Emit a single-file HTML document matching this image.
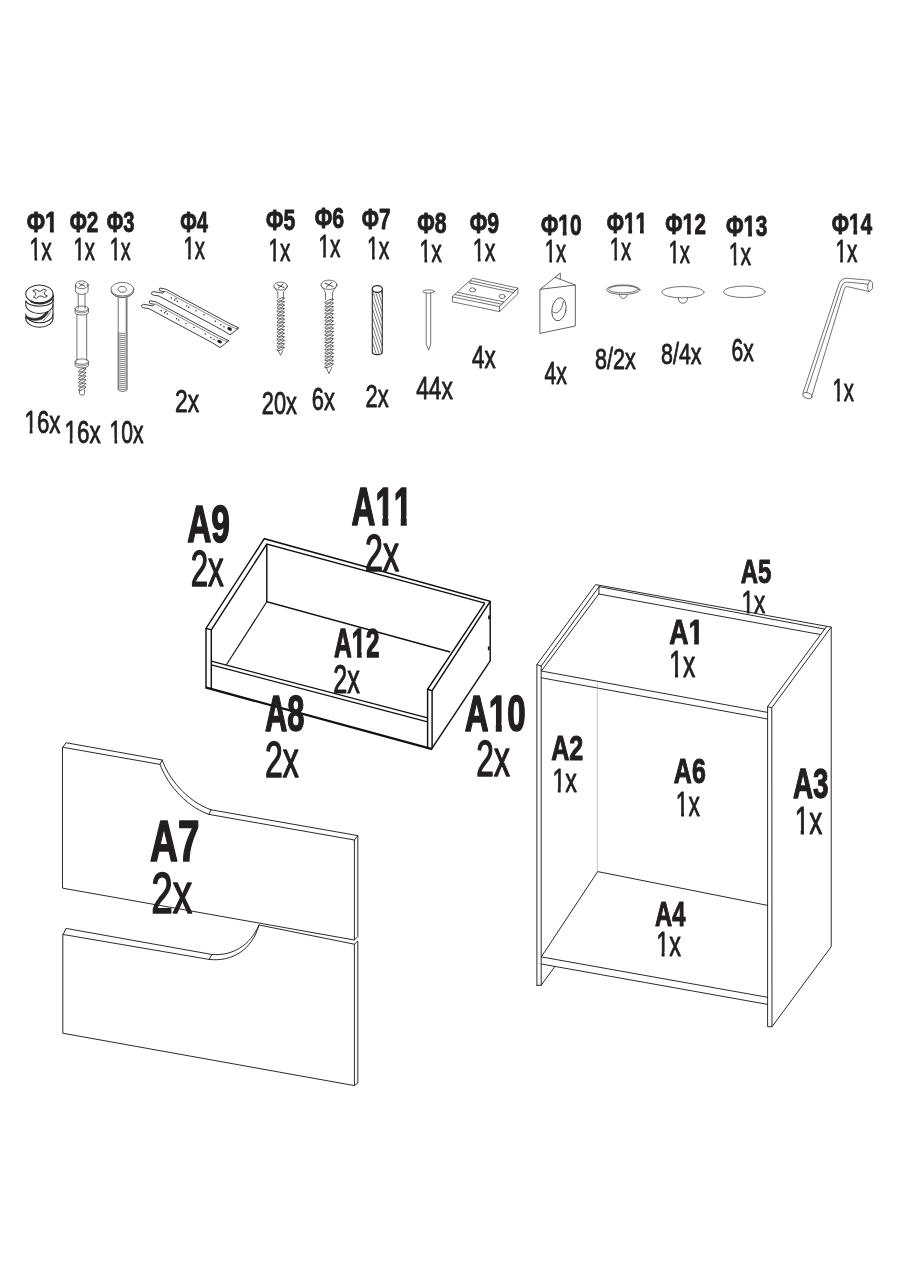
<!DOCTYPE html>
<html><head><meta charset="utf-8"><title>Assembly parts</title>
<style>
html,body{margin:0;padding:0;background:#fff;}
svg{display:block;}
text{font-family:"Liberation Sans",sans-serif;font-size:100px;font-kerning:none;fill:#231f20;stroke:#231f20;vector-effect:non-scaling-stroke;stroke-linejoin:round;}
</style></head><body>
<svg width="900" height="1280" viewBox="0 0 900 1280">
<rect width="900" height="1280" fill="#fff"/>
<defs>
<clipPath id="c0"><path clip-rule="evenodd" d="M-30,-130H400V40H-30ZM82.2,-16.7H103.6V20H82.2ZM120.9,-16.7H141.1V20H120.9Z"/></clipPath>
<clipPath id="c1"><path clip-rule="evenodd" d="M-30,-130H400V40H-30ZM81.8,-16.8H103.5V20H81.8ZM121.0,-16.8H141.5V20H121.0Z"/></clipPath>
<clipPath id="c2"><path clip-rule="evenodd" d="M-30,-130H400V40H-30ZM81.7,-16.7H103.5V20H81.7ZM121.0,-16.7H159.1V20H121.0ZM176.7,-16.7H197.2V20H176.7Z"/></clipPath>
<clipPath id="c3"><path clip-rule="evenodd" d="M-30,-130H400V40H-30ZM81.8,-16.8H103.5V20H81.8ZM121.0,-16.8H141.5V20H121.0Z"/></clipPath>
<clipPath id="c4"><path clip-rule="evenodd" d="M-30,-130H400V40H-30ZM81.9,-16.8H103.6V20H81.9ZM121.0,-16.8H141.4V20H121.0Z"/></clipPath>
<clipPath id="c5"><path clip-rule="evenodd" d="M-30,-130H400V40H-30ZM81.8,-16.7H103.5V20H81.8ZM121.0,-16.7H141.5V20H121.0Z"/></clipPath>
<clipPath id="c6"><path clip-rule="evenodd" d="M-30,-130H400V40H-30ZM1.6,-13.2H23.4V20H1.6ZM35.7,-13.2H56.8V20H35.7Z"/></clipPath>
<clipPath id="c7"><path clip-rule="evenodd" d="M-30,-130H400V40H-30ZM1.4,-13.2H23.4V20H1.4ZM35.8,-13.2H57.0V20H35.8Z"/></clipPath>
<clipPath id="c8"><path clip-rule="evenodd" d="M-30,-130H400V40H-30ZM1.2,-13.2H23.3V20H1.2ZM35.8,-13.2H57.2V20H35.8Z"/></clipPath>
<clipPath id="c9"><path clip-rule="evenodd" d="M-30,-130H400V40H-30ZM1.4,-13.2H23.4V20H1.4ZM35.8,-13.2H57.0V20H35.8Z"/></clipPath>
<clipPath id="c10"><path clip-rule="evenodd" d="M-30,-130H400V40H-30ZM1.5,-13.2H23.4V20H1.5ZM35.7,-13.2H56.8V20H35.7Z"/></clipPath>
<clipPath id="c11"><path clip-rule="evenodd" d="M-30,-130H400V40H-30ZM1.5,-13.2H23.4V20H1.5ZM35.7,-13.2H56.8V20H35.7Z"/></clipPath>
<clipPath id="c12"><path clip-rule="evenodd" d="M-30,-130H400V40H-30ZM1.6,-13.2H23.4V20H1.6ZM35.7,-13.2H56.8V20H35.7Z"/></clipPath>
<clipPath id="c13"><path clip-rule="evenodd" d="M-30,-130H400V40H-30ZM1.6,-13.2H23.4V20H1.6ZM35.7,-13.2H56.8V20H35.7Z"/></clipPath>
<clipPath id="c14"><path clip-rule="evenodd" d="M-30,-130H400V40H-30ZM1.7,-13.2H23.4V20H1.7ZM35.7,-13.2H56.7V20H35.7Z"/></clipPath>
<clipPath id="c15"><path clip-rule="evenodd" d="M-30,-130H400V40H-30ZM1.4,-13.2H23.4V20H1.4ZM35.8,-13.2H57.0V20H35.8Z"/></clipPath>
<clipPath id="c16"><path clip-rule="evenodd" d="M-30,-130H400V40H-30ZM1.4,-13.2H23.4V20H1.4ZM35.8,-13.2H57.0V20H35.8Z"/></clipPath>
<clipPath id="c17"><path clip-rule="evenodd" d="M-30,-130H400V40H-30ZM1.4,-13.2H23.4V20H1.4ZM35.8,-13.2H57.0V20H35.8Z"/></clipPath>
<clipPath id="c18"><path clip-rule="evenodd" d="M-30,-130H400V40H-30ZM1.6,-13.2H23.4V20H1.6ZM35.7,-13.2H56.8V20H35.7Z"/></clipPath>
<clipPath id="c19"><path clip-rule="evenodd" d="M-30,-130H400V40H-30ZM1.5,-13.2H23.4V20H1.5ZM35.7,-13.2H56.8V20H35.7Z"/></clipPath>
<clipPath id="c20"><path clip-rule="evenodd" d="M-30,-130H400V40H-30ZM1.9,-13.3H23.5V20H1.9ZM35.6,-13.3H56.4V20H35.6Z"/></clipPath>
<clipPath id="c21"><path clip-rule="evenodd" d="M-30,-130H400V40H-30ZM2.0,-13.3H23.5V20H2.0ZM35.6,-13.3H56.4V20H35.6Z"/></clipPath>
<clipPath id="c22"><path clip-rule="evenodd" d="M-30,-130H400V40H-30ZM1.6,-13.3H23.4V20H1.6ZM35.7,-13.3H56.8V20H35.7Z"/></clipPath>
<clipPath id="c23"><path clip-rule="evenodd" d="M-30,-130H400V40H-30ZM1.4,-13.2H23.4V20H1.4ZM35.8,-13.2H57.0V20H35.8Z"/></clipPath>
<clipPath id="c24"><path clip-rule="evenodd" d="M-30,-130H400V40H-30ZM71.2,-16.6H93.5V20H71.2ZM111.4,-16.6H149.1V20H111.4ZM167.0,-16.6H188.0V20H167.0Z"/></clipPath>
<clipPath id="c25"><path clip-rule="evenodd" d="M-30,-130H400V40H-30ZM70.9,-16.7H93.4V20H70.9ZM111.4,-16.7H132.6V20H111.4Z"/></clipPath>
<clipPath id="c26"><path clip-rule="evenodd" d="M-30,-130H400V40H-30ZM71.4,-16.8H93.5V20H71.4ZM111.3,-16.8H132.1V20H111.3Z"/></clipPath>
<clipPath id="c27"><path clip-rule="evenodd" d="M-30,-130H400V40H-30ZM1.9,-13.2H23.5V20H1.9ZM35.6,-13.2H56.4V20H35.6Z"/></clipPath>
<clipPath id="c28"><path clip-rule="evenodd" d="M-30,-130H400V40H-30ZM72.5,-16.6H93.8V20H72.5ZM111.0,-16.6H131.1V20H111.0Z"/></clipPath>
<clipPath id="c29"><path clip-rule="evenodd" d="M-30,-130H400V40H-30ZM1.7,-13.2H23.5V20H1.7ZM35.7,-13.2H56.6V20H35.7Z"/></clipPath>
<clipPath id="c30"><path clip-rule="evenodd" d="M-30,-130H400V40H-30ZM1.8,-13.2H23.5V20H1.8ZM35.6,-13.2H56.5V20H35.6Z"/></clipPath>
<clipPath id="c31"><path clip-rule="evenodd" d="M-30,-130H400V40H-30ZM1.4,-13.2H23.4V20H1.4ZM35.8,-13.2H57.0V20H35.8Z"/></clipPath>
<clipPath id="c32"><path clip-rule="evenodd" d="M-30,-130H400V40H-30ZM1.6,-13.2H23.4V20H1.6ZM35.7,-13.2H56.7V20H35.7Z"/></clipPath>
<clipPath id="c33"><path clip-rule="evenodd" d="M-30,-130H400V40H-30ZM1.7,-13.2H23.5V20H1.7ZM35.7,-13.2H56.6V20H35.7Z"/></clipPath>
</defs>
<g id="hardware" fill="none" stroke="#444" stroke-width="0.75" stroke-linecap="round" stroke-linejoin="round">
<!-- F1 cam lock -->
<g stroke="#2b2b2b" stroke-width="1.05">
<path d="M25.799999999999997,293.9 V318.3 A13.6,8.9 0 0 0 53.0,318.3 V293.9 Z" fill="#fff" stroke="none"/>
<path d="M53.0,294.5 V318.3"/>
<path d="M25.799999999999997,318.3 A13.6,8.9 0 0 0 53.0,318.3"/>
<path d="M25.799999999999997,313.9 A13.6,8.9 0 0 0 53.0,313.9"/>
<path d="M25.799999999999997,316.6 V318.3"/>
<path d="M26.4,316 C32,319.6 40.5,319.6 45.6,312.6 L48.4,311.6 C45.5,319.5 36,323.4 26.2,318 Z" fill="#2b2b2b" stroke-width="0.6"/>
<path d="M41,319.6 C45,316.5 47,313.5 48.6,311.4 M43.2,320.6 C46,318 49,315 50.4,311.8" stroke-width="0.7"/>
<path d="M25.8,301.2 V304.6 A13.6,8.9 0 0 0 53,304.6"/>
<path d="M25.8,301 A13.6,6.2 0 0 0 53,298.8"/>
<path d="M31,301.4 A13.6,8.9 0 0 0 53.0,296.3" stroke-width="2"/>
<ellipse cx="39.4" cy="293.9" rx="13.6" ry="8.9" fill="#fff"/>
<path d="M33.2,290.6 L35.8,289.4 L38.4,291.2 L40.6,291.2 L43.6,289.2 L46.4,290.2 L44.2,292.4 L44.6,294.4 L47.4,296 L44.6,297.6 L41.6,296 L39.2,296.2 L36.2,298.4 L33.4,297.2 L35.8,294.8 L35.6,293 Z" stroke-width="0.9"/>
</g>
<!-- F2 bolt -->
<g>
<path d="M75.5,284.8 V290.8 A6.3,3.6 0 0 0 88.1,290.8 V284.8"/>
<ellipse cx="81.8" cy="284.8" rx="6.3" ry="3.9"/>
<path d="M79,283.6 L84.6,286 M84,283.2 L79.6,286.4" stroke-width="0.9"/>
<path d="M78.2,294 V308.4 M85,294 V308.4"/>
<path d="M75.1,308.7 V312.4 A6.7,2.7 0 0 0 88.5,312.4 V308.7"/>
<ellipse cx="81.8" cy="308.7" rx="6.7" ry="2.7"/>
<path d="M75.6,311 A6.4,2.6 0 0 0 88,311" stroke-width="0.6"/>
<path d="M76.9,314.4 V360.4 M86.7,314.4 V360.4"/>
<path d="M75.1,361.6 V365.2 A6.7,2.7 0 0 0 88.5,365.2 V361.6 A6.7,2.7 0 0 0 75.1,361.6 A6.7,2.7 0 0 0 88.5,361.6"/>
<path d="M75.6,364 A6.4,2.6 0 0 0 88,364" stroke-width="0.6"/>
<ellipse cx="82.1" cy="370.23" rx="3.9" ry="1.21" transform="rotate(-24 82.1 370.23)"/><ellipse cx="82.1" cy="373.90" rx="3.9" ry="1.21" transform="rotate(-24 82.1 373.90)"/><ellipse cx="82.1" cy="377.57" rx="3.9" ry="1.21" transform="rotate(-24 82.1 377.57)"/><ellipse cx="82.1" cy="381.23" rx="3.9" ry="1.21" transform="rotate(-24 82.1 381.23)"/><ellipse cx="82.1" cy="384.90" rx="3.9" ry="1.21" transform="rotate(-24 82.1 384.90)"/><ellipse cx="82.1" cy="388.57" rx="3.9" ry="1.21" transform="rotate(-24 82.1 388.57)"/>
<path d="M79.5,390 V393.6 A2.5,1.5 0 0 0 84.5,393.6 V390"/>
</g>
<!-- F3 bolt -->
<g>
<path d="M111,290.6 A11.4,6.8 0 0 0 133.8,290.6" />
<path d="M111.4,292.2 A11.2,6.6 0 0 0 133.4,292.2" stroke-width="0.6"/>
<ellipse cx="122.4" cy="289.2" rx="11.4" ry="6.8" fill="#fff"/>
<path d="M120.2,286.6 L124.6,286.6 L126.8,289.4 L124.6,292.2 L120.2,292.2 L118,289.4 Z"/>
<path d="M118.2,297.6 V389.6 A4.4,1.8 0 0 0 127,389.6 V297.6 M126.2,298 V332" />
<path d="M118.2,333.0 Q122.6,334.1 127,333.0 M118.2,335.0 Q122.6,336.1 127,335.0 M118.2,337.0 Q122.6,338.1 127,337.0 M118.2,339.0 Q122.6,340.1 127,339.0 M118.2,341.0 Q122.6,342.1 127,341.0 M118.2,343.0 Q122.6,344.1 127,343.0 M118.2,345.0 Q122.6,346.1 127,345.0 M118.2,347.0 Q122.6,348.1 127,347.0 M118.2,349.0 Q122.6,350.1 127,349.0 M118.2,351.0 Q122.6,352.1 127,351.0 M118.2,353.0 Q122.6,354.1 127,353.0 M118.2,355.0 Q122.6,356.1 127,355.0 M118.2,357.0 Q122.6,358.1 127,357.0 M118.2,359.0 Q122.6,360.1 127,359.0 M118.2,361.0 Q122.6,362.1 127,361.0 M118.2,363.0 Q122.6,364.1 127,363.0 M118.2,365.0 Q122.6,366.1 127,365.0 M118.2,367.0 Q122.6,368.1 127,367.0 M118.2,369.0 Q122.6,370.1 127,369.0 M118.2,371.0 Q122.6,372.1 127,371.0 M118.2,373.0 Q122.6,374.1 127,373.0 M118.2,375.0 Q122.6,376.1 127,375.0 M118.2,377.0 Q122.6,378.1 127,377.0 M118.2,379.0 Q122.6,380.1 127,379.0 M118.2,381.0 Q122.6,382.1 127,381.0 M118.2,383.0 Q122.6,384.1 127,383.0 M118.2,385.0 Q122.6,386.1 127,385.0 M118.2,387.0 Q122.6,388.1 127,387.0 M118.2,389.0 Q122.6,390.1 127,389.0" stroke-width="0.7"/>
</g>
<!-- F4 rails -->
<g stroke="#2a2a2a" stroke-width="0.9">
<g transform="translate(0,0)">
<path d="M159.6,288.3 Q157.8,290.4 160.6,290.9 L164.6,291.6 L163,293.2 L153.5,291.6 Q150.8,292.2 151.6,294 Q152,295 154,295.2 L159,296 L222.6,330.2 L230,334.9 L238.9,328 L228.7,323.1 L166.4,289.4 Z" fill="#fff"/>
<path d="M165.4,291.2 L227.2,324.8 L236.4,328.8" stroke-width="0.55"/>
<ellipse cx="229.6" cy="328.9" rx="2.4" ry="1.6" fill="#1a1a1a" stroke="none" transform="rotate(25 229.6 328.9)"/>
<circle cx="171.3" cy="298" r="0.7" fill="#1a1a1a" stroke="none"/><circle cx="174.7" cy="300" r="0.7" fill="#1a1a1a" stroke="none"/><circle cx="176" cy="298.7" r="0.7" fill="#1a1a1a" stroke="none"/><circle cx="177.3" cy="301.3" r="0.7" fill="#1a1a1a" stroke="none"/><circle cx="186.7" cy="306" r="0.7" fill="#1a1a1a" stroke="none"/><circle cx="188.7" cy="307.3" r="0.7" fill="#1a1a1a" stroke="none"/><circle cx="196" cy="310.7" r="0.7" fill="#1a1a1a" stroke="none"/><circle cx="204" cy="314.7" r="0.7" fill="#1a1a1a" stroke="none"/><circle cx="215.3" cy="321.3" r="0.7" fill="#1a1a1a" stroke="none"/><circle cx="220.7" cy="324.7" r="0.7" fill="#1a1a1a" stroke="none"/><circle cx="224" cy="326.7" r="0.7" fill="#1a1a1a" stroke="none"/>
<circle cx="237" cy="328.3" r="0.6" fill="#1a1a1a" stroke="none"/>
</g>
<g transform="translate(-10,12.7)">
<path d="M159.6,288.3 Q157.8,290.4 160.6,290.9 L164.6,291.6 L163,293.2 L153.5,291.6 Q150.8,292.2 151.6,294 Q152,295 154,295.2 L159,296 L222.6,330.2 L230,334.9 L238.9,328 L228.7,323.1 L166.4,289.4 Z" fill="#fff"/>
<path d="M165.4,291.2 L227.2,324.8 L236.4,328.8" stroke-width="0.55"/>
<ellipse cx="229.6" cy="328.9" rx="2.4" ry="1.6" fill="#1a1a1a" stroke="none" transform="rotate(25 229.6 328.9)"/>
<circle cx="171.3" cy="298" r="0.7" fill="#1a1a1a" stroke="none"/><circle cx="174.7" cy="300" r="0.7" fill="#1a1a1a" stroke="none"/><circle cx="176" cy="298.7" r="0.7" fill="#1a1a1a" stroke="none"/><circle cx="177.3" cy="301.3" r="0.7" fill="#1a1a1a" stroke="none"/><circle cx="186.7" cy="306" r="0.7" fill="#1a1a1a" stroke="none"/><circle cx="188.7" cy="307.3" r="0.7" fill="#1a1a1a" stroke="none"/><circle cx="196" cy="310.7" r="0.7" fill="#1a1a1a" stroke="none"/><circle cx="204" cy="314.7" r="0.7" fill="#1a1a1a" stroke="none"/><circle cx="215.3" cy="321.3" r="0.7" fill="#1a1a1a" stroke="none"/><circle cx="220.7" cy="324.7" r="0.7" fill="#1a1a1a" stroke="none"/><circle cx="224" cy="326.7" r="0.7" fill="#1a1a1a" stroke="none"/>
<circle cx="237" cy="328.3" r="0.6" fill="#1a1a1a" stroke="none"/>
</g>
</g>
<!-- F5 F6 screws -->
<g>
<ellipse cx="280.6" cy="286.1" rx="6.7" ry="4"/>
<path d="M273.90000000000003,286.90000000000003 Q276.915,291.3 277.85,291.9 V297.7 M287.3,286.90000000000003 Q284.285,291.3 283.35,291.9 V297.7"/>
<path d="M277.25,284.70000000000005 L283.95000000000005,287.5 M282.94500000000005,284.1 L278.255,288.1" stroke-width="1"/>
<ellipse cx="280.6" cy="299.46" rx="3.90" ry="1.16" transform="rotate(-24 280.6 299.46)" stroke-width="0.75"/><ellipse cx="280.6" cy="302.99" rx="3.90" ry="1.16" transform="rotate(-24 280.6 302.99)" stroke-width="0.75"/><ellipse cx="280.6" cy="306.52" rx="3.90" ry="1.16" transform="rotate(-24 280.6 306.52)" stroke-width="0.75"/><ellipse cx="280.6" cy="310.04" rx="3.90" ry="1.16" transform="rotate(-24 280.6 310.04)" stroke-width="0.75"/><ellipse cx="280.6" cy="313.57" rx="3.90" ry="1.16" transform="rotate(-24 280.6 313.57)" stroke-width="0.75"/><ellipse cx="280.6" cy="317.10" rx="3.90" ry="1.16" transform="rotate(-24 280.6 317.10)" stroke-width="0.75"/><ellipse cx="280.6" cy="320.62" rx="3.90" ry="1.16" transform="rotate(-24 280.6 320.62)" stroke-width="0.75"/><ellipse cx="280.6" cy="324.15" rx="3.90" ry="1.16" transform="rotate(-24 280.6 324.15)" stroke-width="0.75"/><ellipse cx="280.6" cy="327.68" rx="3.90" ry="1.16" transform="rotate(-24 280.6 327.68)" stroke-width="0.75"/><ellipse cx="280.6" cy="331.20" rx="3.90" ry="1.16" transform="rotate(-24 280.6 331.20)" stroke-width="0.75"/><ellipse cx="280.6" cy="334.73" rx="3.90" ry="1.16" transform="rotate(-24 280.6 334.73)" stroke-width="0.75"/><ellipse cx="280.6" cy="338.26" rx="3.90" ry="1.16" transform="rotate(-24 280.6 338.26)" stroke-width="0.75"/><ellipse cx="280.6" cy="341.78" rx="3.90" ry="1.16" transform="rotate(-24 280.6 341.78)" stroke-width="0.75"/><ellipse cx="280.6" cy="345.31" rx="3.90" ry="1.16" transform="rotate(-24 280.6 345.31)" stroke-width="0.75"/><ellipse cx="280.6" cy="348.84" rx="3.90" ry="1.16" transform="rotate(-24 280.6 348.84)" stroke-width="0.75"/>
<path d="M278.26000000000005,350.6 L280.6,355.4 L282.94,350.6"/>
</g>
<g>
<ellipse cx="329" cy="284.8" rx="8" ry="4.7"/>
<path d="M321,285.6 Q324.6,290.7 325.5,292.3 V299.4 M337,285.6 Q333.4,290.7 332.5,292.3 V299.4"/>
<path d="M325.0,283.15500000000003 L333.0,286.445 M331.8,282.45 L326.2,287.15000000000003" stroke-width="1"/>
<ellipse cx="329" cy="301.19" rx="4.60" ry="1.18" transform="rotate(-24 329 301.19)" stroke-width="0.75"/><ellipse cx="329" cy="304.77" rx="4.60" ry="1.18" transform="rotate(-24 329 304.77)" stroke-width="0.75"/><ellipse cx="329" cy="308.35" rx="4.60" ry="1.18" transform="rotate(-24 329 308.35)" stroke-width="0.75"/><ellipse cx="329" cy="311.93" rx="4.60" ry="1.18" transform="rotate(-24 329 311.93)" stroke-width="0.75"/><ellipse cx="329" cy="315.51" rx="4.60" ry="1.18" transform="rotate(-24 329 315.51)" stroke-width="0.75"/><ellipse cx="329" cy="319.08" rx="4.60" ry="1.18" transform="rotate(-24 329 319.08)" stroke-width="0.75"/><ellipse cx="329" cy="322.66" rx="4.60" ry="1.18" transform="rotate(-24 329 322.66)" stroke-width="0.75"/><ellipse cx="329" cy="326.24" rx="4.60" ry="1.18" transform="rotate(-24 329 326.24)" stroke-width="0.75"/><ellipse cx="329" cy="329.82" rx="4.60" ry="1.18" transform="rotate(-24 329 329.82)" stroke-width="0.75"/><ellipse cx="329" cy="333.40" rx="4.60" ry="1.18" transform="rotate(-24 329 333.40)" stroke-width="0.75"/><ellipse cx="329" cy="336.98" rx="4.60" ry="1.18" transform="rotate(-24 329 336.98)" stroke-width="0.75"/><ellipse cx="329" cy="340.56" rx="4.60" ry="1.18" transform="rotate(-24 329 340.56)" stroke-width="0.75"/><ellipse cx="329" cy="344.14" rx="4.60" ry="1.18" transform="rotate(-24 329 344.14)" stroke-width="0.75"/><ellipse cx="329" cy="347.72" rx="4.60" ry="1.18" transform="rotate(-24 329 347.72)" stroke-width="0.75"/><ellipse cx="329" cy="351.29" rx="4.60" ry="1.18" transform="rotate(-24 329 351.29)" stroke-width="0.75"/><ellipse cx="329" cy="354.87" rx="4.60" ry="1.18" transform="rotate(-24 329 354.87)" stroke-width="0.75"/><ellipse cx="329" cy="358.45" rx="4.60" ry="1.18" transform="rotate(-24 329 358.45)" stroke-width="0.75"/><ellipse cx="329" cy="362.03" rx="4.60" ry="1.18" transform="rotate(-24 329 362.03)" stroke-width="0.75"/><ellipse cx="329" cy="365.61" rx="4.60" ry="1.18" transform="rotate(-24 329 365.61)" stroke-width="0.75"/>
<path d="M326.24,367.4 L329,373.7 L331.76,367.4"/>
</g>
<!-- F7 dowel -->
<g stroke="#2a2a2a" stroke-width="1.1">
<path d="M372.3,289 V352 A5,2.6 0 0 0 382.3,352 V289" fill="#fff"/>
<path d="M381.0,291.5 L382.3,295.5 M378.1,291.5 L382.3,304.0 M375.3,291.5 L382.3,312.5 M372.5,291.5 L382.3,321.0 M372.3,299.5 L382.3,329.5 M372.3,308.0 L382.3,338.0 M372.3,316.5 L382.3,346.5 M372.3,325.0 L381.8,353.6 M372.3,333.5 L379.0,353.6 M372.3,342.0 L376.2,353.6 M372.3,350.5 L373.3,353.6" stroke-width="0.65" stroke="#3a3a3a"/>
<ellipse cx="377.3" cy="289" rx="5" ry="3.4" fill="#fff" stroke-width="1.2"/>
</g>
<!-- F8 nail -->
<g>
<ellipse cx="428.7" cy="291.5" rx="5.8" ry="1.6" fill="#fff"/>
<path d="M426.2,293 V344 L428.7,350.2 L430.7,344 V293"/>
</g>
<!-- F9 plate -->
<g>
<path d="M472.9,278.3 L517.9,288.1 L517.9,293.8 L499.6,311.6 L452.4,301.8 L452.4,297 Z" fill="#fff"/>
<path d="M452.4,297 L499.6,306.6 L517.9,288.1 M499.6,306.6 V311.6"/>
<path d="M471.2,280.8 L515.6,290.4 M469.4,283 L513.6,292.6 L515.6,290.4 M469.4,283 L471.2,280.8"/>
<path d="M457.8,292.4 L503.6,301.8 M455.2,294.6 L501.6,304.2 L503.6,301.8"/>
<ellipse cx="472.5" cy="289.9" rx="3" ry="2.1"/>
<ellipse cx="502.2" cy="296.4" rx="3" ry="2.1"/>
</g>
<!-- F10 bracket -->
<g stroke-width="0.85">
<path d="M540.3,289.3 L575.3,285 L575.3,326 L540.3,333.3 Z" fill="#fff"/>
<path d="M540.3,289.3 L560.3,273 V278.4 M555.3,277.4 L575.3,285"/>
<ellipse cx="559" cy="309.3" rx="7" ry="11.6" transform="rotate(10 559 309.3)"/>
<path d="M552.3,311.7 C556,315.4 562,311.5 563.4,301.2"/>
</g>
<!-- F11-13 caps -->
<g>
<path d="M619.3,293.8 A4,4.6 0 0 0 627.3,293.8"/>
<ellipse cx="623.3" cy="289.7" rx="16.7" ry="4.8" fill="#fff"/>
<ellipse cx="623.3" cy="289.3" rx="14.8" ry="3.6"/>
<path d="M678.5,297 V299.2 A4.4,4 0 0 0 687.3,299.2 V297"/>
<ellipse cx="682.9" cy="292.2" rx="21.1" ry="5.7" fill="#fff"/>
<ellipse cx="744.4" cy="291.8" rx="20.7" ry="5.8"/>
</g>
<!-- F14 allen key -->
<g>
<path d="M803,393 L838.7,284.8 Q840.6,278.4 846.4,278.2 L870.4,280.3 L872.7,283 L872.5,288.5 L869.3,291.6 L847.4,286.6 Q845.2,286.4 844.4,288.8 L812.1,395.2"/>
<path d="M806.6,392.4 L841.6,286 Q843.4,281.8 847.2,282 L868,284.2"/>
<path d="M870.4,280.3 L868,284.2 L867.6,289 L869.3,291.6"/>
<ellipse cx="807.4" cy="395.6" rx="4.8" ry="2.8" transform="rotate(17 807.4 395.6)" fill="#fff"/>
</g>
</g>

<g id="cabinet" fill="none" stroke="#231f20" stroke-width="0.95" stroke-linejoin="round" stroke-linecap="round">
<path d="M536.9,985.3 L536.9,664.6 L595.6,584.6 L831.2,627.1 L831.2,946.7 L772,1026.7 L767.6,1026.7 L767.6,706.6 L826.6,626.4"/>
<path d="M536.9,985.3 L541.2,985.3 L554.7,966.7"/>
<path d="M541.2,985.3 L541.2,666 L599.1,586.6"/>
<path d="M536.9,664.6 L541.2,666"/>
<path d="M767.6,706.6 L771.8,707.8 L831.2,627.1 M771.8,707.8 L772,1026.7"/>
<path d="M599.1,586.6 L824.7,629.1"/>
<path d="M599.1,586.6 L598.8,594 L819.8,634.4"/>
<path d="M598.8,594 L541.3,671 L767.6,712.4"/>
<path d="M541.3,677.8 L767.6,719"/>
<path d="M597.7,871.6 L767.6,905.4"/>
<path d="M597.7,871.6 L541.3,956.9 L767.6,997.3"/>
<path d="M541.3,964 L767.6,1004.4"/>
<path d="M597.3,683.8 L597.3,871.6" stroke="#9a9a9a" stroke-width="0.6"/>
</g>
<g id="drawerbox" fill="none" stroke="#111" stroke-width="1.45" stroke-linejoin="miter" stroke-linecap="butt">
<path d="M206,687.6 L206,628.4 L264.3,538.7 L490.2,601.3 L490.2,660.9 L431.6,748.9"/>
<path d="M205.4,687.4 L432.2,749.1" stroke-width="2.4"/>
<path d="M206,628.4 L211.3,629.9 L211.3,688.5"/>
<path d="M211.3,629.9 L266.8,544 L484.9,603.1"/>
<path d="M266.8,544 L266.8,601.8 L450.2,652"/>
<path d="M266.8,601.8 L226.4,664.8" stroke-width="1.1"/>
<path d="M211.3,661.2 L427.6,717.8 M211.3,664.8 L427.6,721.8" stroke-width="1.25"/>
<path d="M427.6,747.8 L427.6,689.3 L484.9,603.1"/>
<path d="M427.6,689.3 L432.1,690.6 L490.2,601.3 M432.1,690.6 L432.1,748.9"/>
<path d="M489,615.6 V619.2 M488.7,646.6 V650.2" stroke-width="1.7"/>
</g>
<g id="fronts" fill="none" stroke="#231f20" stroke-width="0.95" stroke-linejoin="round" stroke-linecap="round">
<path d="M62.9,747.3 L160,764.4 C166,781 183,805 208.9,814.4 L354.4,840 L354.4,940 L62.9,888.2 Z"/>
<path d="M62.9,747.3 L66,742.7 L162.2,760 C168,777 186,801 211.1,809.8 L357.8,835.6 L357.8,936.5 L354.4,940"/>
<path d="M160,764.4 L162.2,760 M208.9,814.4 L211.1,809.8 M354.4,840 L357.8,835.6"/>
<path d="M63.2,934.5 L209,959.4 C232,962 252,950 259,925 L354.4,944.2 L354.4,1085.6 L63.2,1033.3 Z"/>
<path d="M63.2,934.5 L66,928.4 L212,954.5 C232,956 250,946 259,925"/>
<path d="M209,959.4 L212,954.5 M354.4,944.2 L357.8,941 L357.8,1083 L354.4,1085.6"/>
</g>

<g id="labels" opacity="0.999">
<text transform="matrix(0.2238 0 0 0.3030 26.72 232.35)" font-weight="bold" stroke-width="0.79" clip-path="url(#c0)">Φ1</text>
<text transform="matrix(0.2085 0 0 0.3008 69.77 232.35)" font-weight="bold" stroke-width="0.79">Φ2</text>
<text transform="matrix(0.2020 0 0 0.2987 106.79 232.21)" font-weight="bold" stroke-width="0.79">Φ3</text>
<text transform="matrix(0.2012 0 0 0.3030 180.29 231.85)" font-weight="bold" stroke-width="0.79">Φ4</text>
<text transform="matrix(0.2118 0 0 0.3008 266.01 230.20)" font-weight="bold" stroke-width="0.79">Φ5</text>
<text transform="matrix(0.2134 0 0 0.2987 314.76 228.46)" font-weight="bold" stroke-width="0.79">Φ6</text>
<text transform="matrix(0.2085 0 0 0.3030 361.77 228.60)" font-weight="bold" stroke-width="0.79">Φ7</text>
<text transform="matrix(0.2126 0 0 0.2987 417.26 233.46)" font-weight="bold" stroke-width="0.79">Φ8</text>
<text transform="matrix(0.2134 0 0 0.2987 469.76 232.71)" font-weight="bold" stroke-width="0.79">Φ9</text>
<text transform="matrix(0.2108 0 0 0.2987 541.01 234.71)" font-weight="bold" stroke-width="0.79" clip-path="url(#c1)">Φ10</text>
<text transform="matrix(0.2091 0 0 0.3030 606.77 232.85)" font-weight="bold" stroke-width="0.79" clip-path="url(#c2)">Φ11</text>
<text transform="matrix(0.2108 0 0 0.3008 665.26 234.35)" font-weight="bold" stroke-width="0.79" clip-path="url(#c3)">Φ12</text>
<text transform="matrix(0.2143 0 0 0.2987 726.00 235.96)" font-weight="bold" stroke-width="0.79" clip-path="url(#c4)">Φ13</text>
<text transform="matrix(0.2095 0 0 0.3030 831.77 233.60)" font-weight="bold" stroke-width="0.79" clip-path="url(#c5)">Φ14</text>
<text transform="matrix(0.2108 0 0 0.3185 29.61 260.44)" stroke-width="0.73" clip-path="url(#c6)">1x</text>
<text transform="matrix(0.2029 0 0 0.3185 73.44 260.44)" stroke-width="0.73" clip-path="url(#c7)">1x</text>
<text transform="matrix(0.1976 0 0 0.3185 109.74 260.44)" stroke-width="0.73" clip-path="url(#c8)">1x</text>
<text transform="matrix(0.2029 0 0 0.3185 183.44 258.69)" stroke-width="0.73" clip-path="url(#c9)">1x</text>
<text transform="matrix(0.2081 0 0 0.3185 268.39 261.19)" stroke-width="0.73" clip-path="url(#c10)">1x</text>
<text transform="matrix(0.2081 0 0 0.3185 318.39 257.44)" stroke-width="0.73" clip-path="url(#c11)">1x</text>
<text transform="matrix(0.2108 0 0 0.3185 367.11 258.69)" stroke-width="0.73" clip-path="url(#c12)">1x</text>
<text transform="matrix(0.2108 0 0 0.3185 419.61 261.69)" stroke-width="0.73" clip-path="url(#c13)">1x</text>
<text transform="matrix(0.2134 0 0 0.3185 472.84 260.69)" stroke-width="0.73" clip-path="url(#c14)">1x</text>
<text transform="matrix(0.2029 0 0 0.3185 544.69 262.44)" stroke-width="0.73" clip-path="url(#c15)">1x</text>
<text transform="matrix(0.2029 0 0 0.3185 609.69 260.44)" stroke-width="0.73" clip-path="url(#c16)">1x</text>
<text transform="matrix(0.2029 0 0 0.3185 668.44 263.44)" stroke-width="0.73" clip-path="url(#c17)">1x</text>
<text transform="matrix(0.2108 0 0 0.3185 728.86 264.54)" stroke-width="0.73" clip-path="url(#c18)">1x</text>
<text transform="matrix(0.2081 0 0 0.3185 835.39 261.94)" stroke-width="0.73" clip-path="url(#c19)">1x</text>
<text transform="matrix(0.2227 0 0 0.3095 24.50 432.63)" stroke-width="0.73" clip-path="url(#c20)">16x</text>
<text transform="matrix(0.2244 0 0 0.3095 64.48 442.63)" stroke-width="0.73" clip-path="url(#c21)">16x</text>
<text transform="matrix(0.2111 0 0 0.3095 109.61 442.63)" stroke-width="0.73" clip-path="url(#c22)">10x</text>
<text transform="matrix(0.2289 0 0 0.3139 174.97 412.44)" stroke-width="0.73">2x</text>
<text transform="matrix(0.2179 0 0 0.3095 261.77 413.88)" stroke-width="0.73">20x</text>
<text transform="matrix(0.2188 0 0 0.3095 311.77 409.63)" stroke-width="0.73">6x</text>
<text transform="matrix(0.2188 0 0 0.3139 365.52 407.44)" stroke-width="0.73">2x</text>
<text transform="matrix(0.2280 0 0 0.3185 416.16 399.19)" stroke-width="0.73">44x</text>
<text transform="matrix(0.2246 0 0 0.3185 471.91 367.94)" stroke-width="0.73">4x</text>
<text transform="matrix(0.2124 0 0 0.3185 544.44 383.69)" stroke-width="0.73">4x</text>
<text transform="matrix(0.2157 0 0 0.2990 595.09 368.64)" stroke-width="0.73">8/2x</text>
<text transform="matrix(0.2140 0 0 0.2990 661.10 363.64)" stroke-width="0.73">8/4x</text>
<text transform="matrix(0.2108 0 0 0.3095 731.61 360.63)" stroke-width="0.73">6x</text>
<text transform="matrix(0.2029 0 0 0.3185 832.44 400.94)" stroke-width="0.73" clip-path="url(#c23)">1x</text>
<text transform="matrix(0.3346 0 0 0.5092 187.14 542.02)" font-weight="bold" stroke-width="1.35">A9</text>
<text transform="matrix(0.3131 0 0 0.4951 190.71 585.93)" stroke-width="1.15">2x</text>
<text transform="matrix(0.3300 0 0 0.5337 351.56 524.81)" font-weight="bold" stroke-width="1.38" clip-path="url(#c24)">A11</text>
<text transform="matrix(0.3228 0 0 0.5089 364.97 570.91)" stroke-width="1.18">2x</text>
<text transform="matrix(0.2482 0 0 0.4118 333.92 656.66)" font-weight="bold" stroke-width="1.08" clip-path="url(#c25)">A12</text>
<text transform="matrix(0.2519 0 0 0.4038 333.21 692.73)" stroke-width="0.93">2x</text>
<text transform="matrix(0.3087 0 0 0.5051 264.90 731.03)" font-weight="bold" stroke-width="1.34">A8</text>
<text transform="matrix(0.3199 0 0 0.5047 264.98 776.62)" stroke-width="1.17">2x</text>
<text transform="matrix(0.3314 0 0 0.5051 464.84 731.03)" font-weight="bold" stroke-width="1.34" clip-path="url(#c26)">A10</text>
<text transform="matrix(0.3170 0 0 0.5006 476.29 775.62)" stroke-width="1.16">2x</text>
<text transform="matrix(0.2394 0 0 0.3346 740.64 583.13)" font-weight="bold" stroke-width="0.87">A5</text>
<text transform="matrix(0.2250 0 0 0.3199 741.53 613.04)" stroke-width="0.73" clip-path="url(#c27)">1x</text>
<text transform="matrix(0.2671 0 0 0.3591 669.19 644.24)" font-weight="bold" stroke-width="0.93" clip-path="url(#c28)">A1</text>
<text transform="matrix(0.2450 0 0 0.3605 669.28 676.99)" stroke-width="0.82" clip-path="url(#c29)">1x</text>
<text transform="matrix(0.2511 0 0 0.3525 551.13 759.74)" font-weight="bold" stroke-width="0.92">A2</text>
<text transform="matrix(0.2319 0 0 0.3353 552.38 791.82)" stroke-width="0.76" clip-path="url(#c30)">1x</text>
<text transform="matrix(0.2498 0 0 0.3584 673.85 783.27)" font-weight="bold" stroke-width="0.95">A6</text>
<text transform="matrix(0.2272 0 0 0.3563 675.85 815.69)" stroke-width="0.81" clip-path="url(#c31)">1x</text>
<text transform="matrix(0.2781 0 0 0.4168 792.96 798.03)" font-weight="bold" stroke-width="1.11">A3</text>
<text transform="matrix(0.2601 0 0 0.3900 794.67 834.06)" stroke-width="0.89" clip-path="url(#c32)">1x</text>
<text transform="matrix(0.2377 0 0 0.3535 655.06 925.84)" font-weight="bold" stroke-width="0.91">A4</text>
<text transform="matrix(0.2338 0 0 0.3451 656.17 956.11)" stroke-width="0.79" clip-path="url(#c33)">1x</text>
<text transform="matrix(0.3862 0 0 0.5686 150.07 861.47)" font-weight="bold" stroke-width="1.47">A7</text>
<text transform="matrix(0.3888 0 0 0.5697 151.22 912.54)" stroke-width="1.32">2x</text>
</g>
</svg>
</body></html>
